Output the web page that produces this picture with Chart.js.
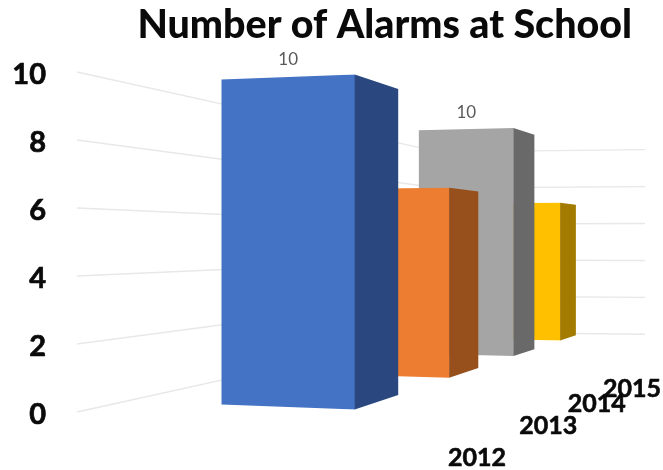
<!DOCTYPE html>
<html>
<head>
<meta charset="utf-8">
<style>html,body{margin:0;padding:0;background:#fff}canvas{display:block}</style>
<script src="https://cdn.jsdelivr.net/npm/chart.js@4"></script>
</head>
<body>
<canvas id="c" width="663" height="470"></canvas>
<script>
// Data
const titleText = 'Number of Alarms at School';
const categories = ['2012', '2013', '2014', '2015'];
const alarmCounts = [10, 7, 10, 7];
const valueLabels = ['10', '', '10', ''];
const valueTicks = [0, 2, 4, 6, 8, 10];

// Styles
const frontColors = ['#4472C4', '#ED7D31', '#A5A5A5', '#FFC000'];
const sideColors = ['#2A4780', '#97501C', '#696969', '#A37B00'];
const fontFamily = 'Lato, "Open Sans", sans-serif';

// Perspective camera of the 3-D view
const vanishX = 853;           // screen x of the vanishing point
const horizonValue = 5;        // axis value that sits on the horizon
const depthStep = 0.234;       // depth between categories
const faceSkew = 0.03;         // extra depth of a bar's left edge
const sideDepth = 0.095;       // depth of a bar's side face
const frontScale = 0.985;      // size of the first bar relative to the axis
const worldRight = -498;       // bar right edge, relative to the vanishing point
const worldLeft = -650.5;      // bar left edge at the near plane
const plotLeft = 77, plotRight = 632;
const tickLabelDrop = 3;       // tick labels sit slightly below their wall lines

const depthOf = i => 1 + depthStep * i;
const scaleAt = d => 1 / d;

const barBox = i => {
  const d = depthOf(i);
  const right = vanishX + worldRight * scaleAt(d);
  const left = vanishX + worldLeft * scaleAt(d + faceSkew);
  return { centre: (left + right) / 2, width: right - left };
};

const yAxisId = i => 'y' + categories[i];

const scales = {
  x: { type: 'linear', display: false, offset: false, min: plotLeft, max: plotRight },
  y: {
    type: 'linear', position: 'left', min: 0, max: 10,
    grid: { display: false, drawTicks: false }, border: { display: false },
    afterFit: s => { s.width = plotLeft; },
    afterBuildTicks: s => { s.ticks = valueTicks.map(value => ({ value })); },
    ticks: {
      padding: 31, color: '#0a0a0a',
      textStrokeColor: '#0a0a0a', textStrokeWidth: 0.7,
      font: { family: fontFamily, size: 29, weight: 'bold' }
    }
  }
};
categories.forEach((c, i) => {
  const span = horizonValue / (frontScale * scaleAt(depthOf(i)));
  scales[yAxisId(i)] = { type: 'linear', display: false, min: horizonValue - span, max: horizonValue + span };
});

const wallProfile = [[77, 1], [439, 0.53], [645, 0.543]];

const perspective = {
  id: 'perspective',
  beforeDraw(chart) {
    chart.scales.y.getLabelItems(chart.chartArea).forEach(item => {
      if (!item.dropped) {
        item.options.translation[1] += tickLabelDrop;
        item.dropped = true;
      }
    });
  },
  beforeDatasetsDraw(chart) {
    const { ctx } = chart, y = chart.scales.y;
    const h = y.getPixelForValue(horizonValue);
    ctx.save();
    ctx.strokeStyle = '#e8e8e8';
    ctx.lineWidth = 1.4;
    valueTicks.forEach(v => {
      const p = y.getPixelForValue(v);
      ctx.beginPath();
      wallProfile.forEach(([x, r], k) => {
        const py = h + (p - h) * r;
        k ? ctx.lineTo(x, py) : ctx.moveTo(x, py);
      });
      ctx.stroke();
    });
    ctx.restore();
  },
  beforeDatasetDraw(chart, args) {
    const { ctx } = chart, i = args.index;
    const h = chart.scales.y.getPixelForValue(horizonValue);
    const b = chart.getDatasetMeta(i).data[0].getProps(['x', 'y', 'base', 'width']);
    const r = depthOf(i) / (depthOf(i) + faceSkew);
    const L = b.x - b.width / 2, R = b.x + b.width / 2;
    ctx.save();
    ctx.beginPath();
    ctx.moveTo(L, h + (b.y - h) * r);
    ctx.lineTo(R, b.y);
    ctx.lineTo(R, b.base);
    ctx.lineTo(L, h + (b.base - h) * r);
    ctx.closePath();
    ctx.clip();
  },
  afterDatasetDraw(chart, args) {
    const { ctx } = chart, i = args.index;
    ctx.restore();
    const h = chart.scales.y.getPixelForValue(horizonValue);
    const b = chart.getDatasetMeta(i).data[0].getProps(['x', 'y', 'base', 'width']);
    const r = depthOf(i) / (depthOf(i) + sideDepth);
    const R = b.x + b.width / 2, back = vanishX + (R - vanishX) * r;
    ctx.save();
    ctx.fillStyle = sideColors[i];
    ctx.beginPath();
    ctx.moveTo(R - 0.3, b.y);
    ctx.lineTo(back, h + (b.y - h) * r);
    ctx.lineTo(back, h + (b.base - h) * r);
    ctx.lineTo(R - 0.3, b.base);
    ctx.closePath();
    ctx.fill();
    ctx.restore();
  },
  afterDatasetsDraw(chart) {
    const { ctx } = chart, y = chart.scales.y;
    const h = y.getPixelForValue(horizonValue);
    ctx.save();
    ctx.textAlign = 'center';
    ctx.textBaseline = 'middle';
    ctx.fillStyle = '#595959';
    ctx.font = '17px ' + fontFamily;
    valueLabels.forEach((t, i) => {
      if (!t) return;
      const b = chart.getDatasetMeta(i).data[0].getProps(['x', 'y']);
      ctx.fillText(t, b.x, b.y - 15.5);
    });
    ctx.fillStyle = '#0a0a0a';
    ctx.strokeStyle = '#0a0a0a';
    ctx.lineWidth = 0.6;
    ctx.font = 'bold 25px ' + fontFamily;
    categories.forEach((t, i) => {
      const s = scaleAt(depthOf(i));
      const tx = vanishX - 376 * s, ty = h + 48 + 168 * s;
      ctx.fillText(t, tx, ty);
      ctx.strokeText(t, tx, ty);
    });
    ctx.restore();
  }
};

new Chart(document.getElementById('c'), {
  type: 'bar',
  data: {
    datasets: categories.map((c, i) => ({
      label: c,
      data: [{ x: barBox(i).centre, y: alarmCounts[i] }],
      yAxisID: yAxisId(i),
      xAxisID: 'x',
      grouped: false,
      barThickness: barBox(i).width,
      backgroundColor: frontColors[i],
      borderWidth: 0
    }))
  },
  plugins: [perspective],
  options: {
    responsive: false,
    animation: false,
    layout: { padding: { left: 0, right: 663 - plotRight, top: 0, bottom: 58 } },
    scales,
    plugins: {
      legend: { display: false },
      tooltip: { enabled: false },
      title: {
        display: true, text: titleText, align: 'end', color: '#0a0a0a',
        font: { family: fontFamily, size: 39.4, weight: 900, lineHeight: 1.2 },
        padding: { top: 1.8, bottom: 22.9 }
      }
    }
  }
});
</script>
</body>
</html>
